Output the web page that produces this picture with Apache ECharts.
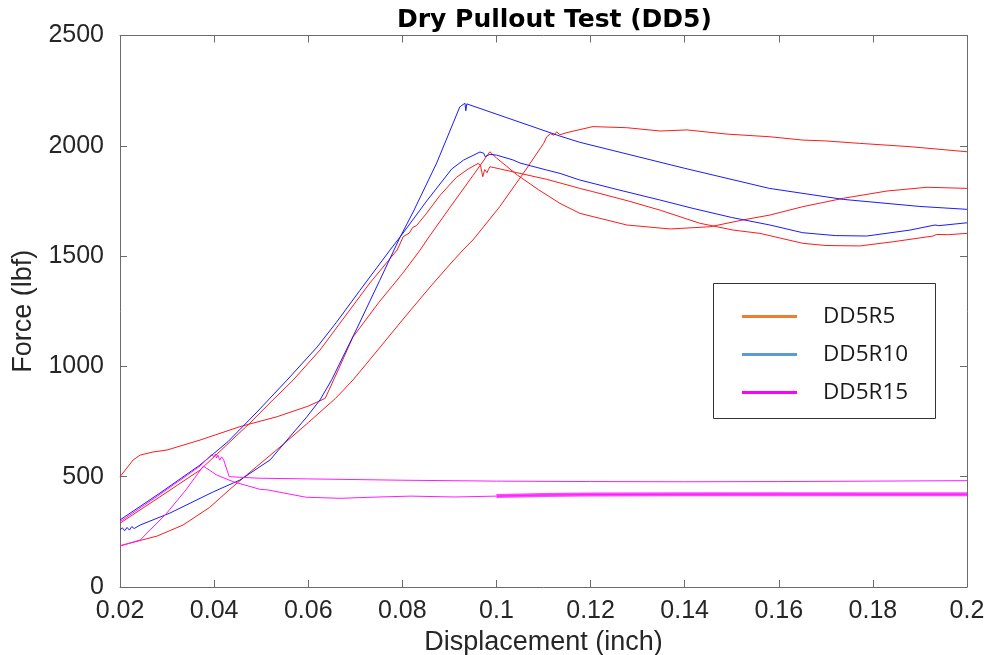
<!DOCTYPE html>
<html>
<head>
<meta charset="utf-8">
<title>Dry Pullout Test (DD5)</title>
<script src="https://cdn.jsdelivr.net/npm/echarts@6/dist/echarts.min.js"></script>
<style>
  html, body { margin: 0; padding: 0; background: #ffffff; }
  .chart { width: 985px; height: 655px; }
</style>
</head>
<body>
<div class="chart"></div>
<script>
// ------------------------------ BEGIN DATA ---------------------------------
// axis ranges : [min, max, interval]
var xRange = [0.02, 0.2, 0.02];
var yRange = [0, 2500, 500];

var legendNames = ['DD5R5', 'DD5R10', 'DD5R15'];

// DD5R5 (red) - three specimens, [displacement inch, force lbf]
var dd5r5A = [
  [0.0200, 289], [0.0285, 409], [0.0370, 530], [0.0476, 743], [0.0525, 848],
  [0.0568, 938], [0.0625, 1074], [0.0731, 1378], [0.0789, 1528], [0.0802, 1588],
  [0.0815, 1605], [0.0822, 1630], [0.0830, 1638], [0.0850, 1690], [0.0880, 1775],
  [0.0915, 1857], [0.0940, 1895], [0.0961, 1920], [0.0966, 1912], [0.0969, 1880],
  [0.0971, 1860], [0.0975, 1892], [0.0978, 1898], [0.0980, 1878], [0.0983, 1893],
  [0.0986, 1905], [0.0993, 1902], [0.1050, 1875], [0.1107, 1848], [0.1177, 1807],
  [0.1205, 1792], [0.1280, 1750], [0.1348, 1708], [0.1432, 1649], [0.1503, 1618],
  [0.1560, 1603], [0.1651, 1558], [0.1700, 1548], [0.1772, 1546], [0.1843, 1565],
  [0.1928, 1591], [0.1935, 1598], [0.1960, 1597], [0.2000, 1603]
];
var dd5r5B = [
  [0.0200, 500], [0.0228, 576], [0.0243, 598], [0.0270, 612], [0.0300, 621],
  [0.0370, 666], [0.0455, 727], [0.0534, 772], [0.0600, 820], [0.0636, 855],
  [0.0665, 990], [0.0695, 1133], [0.0750, 1290], [0.0800, 1420], [0.0838, 1528],
  [0.0852, 1573], [0.0900, 1717], [0.0950, 1865], [0.0986, 1973], [0.1000, 1945],
  [0.1044, 1868], [0.1090, 1800], [0.1135, 1739], [0.1177, 1694], [0.1205, 1679],
  [0.1277, 1641], [0.1369, 1623], [0.1454, 1633], [0.1524, 1664], [0.1581, 1686],
  [0.1651, 1724], [0.1737, 1762], [0.1830, 1795], [0.1915, 1812], [0.2000, 1807]
];
var dd5r5C = [
  [0.0200, 187], [0.0279, 231], [0.0334, 281], [0.0390, 360], [0.0440, 455],
  [0.0490, 545], [0.0546, 645], [0.0600, 745], [0.0658, 855], [0.0695, 938],
  [0.0750, 1080], [0.0800, 1210], [0.0859, 1360], [0.0900, 1460], [0.0929, 1528],
  [0.0950, 1573], [0.1007, 1724], [0.1057, 1875], [0.1100, 2010], [0.1107, 2041],
  [0.1115, 2055], [0.1122, 2048], [0.1128, 2063], [0.1135, 2050], [0.1150, 2060],
  [0.1205, 2087], [0.1277, 2082], [0.1348, 2067], [0.1405, 2072], [0.1490, 2053],
  [0.1581, 2041], [0.1651, 2026], [0.1700, 2022], [0.1772, 2011], [0.1879, 1996],
  [0.2000, 1973]
];

// DD5R10 (blue) - two specimens
var dd5r10A = [
  [0.0200, 304], [0.0285, 426], [0.0370, 553], [0.0430, 660], [0.0491, 793],
  [0.0555, 938], [0.0619, 1088], [0.0660, 1200], [0.0710, 1345], [0.0774, 1528],
  [0.0800, 1600], [0.0850, 1745], [0.0905, 1895], [0.0930, 1935], [0.0965, 1972],
  [0.0969, 1973], [0.0973, 1966], [0.0976, 1951], [0.0980, 1958], [0.0986, 1961],
  [0.1000, 1958], [0.1035, 1936], [0.1050, 1922], [0.1107, 1890], [0.1135, 1875],
  [0.1177, 1845], [0.1260, 1800], [0.1348, 1754], [0.1418, 1716], [0.1500, 1675],
  [0.1581, 1641], [0.1651, 1606], [0.1720, 1593], [0.1787, 1591], [0.1879, 1618],
  [0.1932, 1641], [0.1940, 1638], [0.2000, 1651]
];
var dd5r10B = [
  [0.0200, 258], [0.0205, 268], [0.0210, 255], [0.0215, 270], [0.0220, 258],
  [0.0225, 274], [0.0230, 265], [0.0243, 281], [0.0306, 335], [0.0398, 431],
  [0.0455, 485], [0.0519, 576], [0.0597, 771], [0.0625, 848], [0.0650, 940],
  [0.0703, 1170], [0.0752, 1390], [0.0795, 1585], [0.0823, 1700], [0.0873, 1922],
  [0.0908, 2103], [0.0922, 2176], [0.0933, 2193], [0.0935, 2159], [0.0937, 2190],
  [0.0940, 2185], [0.1135, 2044], [0.1177, 2016], [0.1400, 1898], [0.1580, 1807],
  [0.1737, 1757], [0.1900, 1725], [0.2000, 1712]
];

// DD5R15 (magenta) - two specimens
var dd5r15A = [
  [0.0200, 296], [0.0285, 420], [0.0370, 548], [0.0395, 600], [0.0398, 607],
  [0.0400, 590], [0.0403, 603], [0.0405, 585], [0.0408, 598], [0.0412, 575],
  [0.0416, 590], [0.0420, 578], [0.0423, 583], [0.0432, 500], [0.0497, 493],
  [0.0600, 490], [0.0800, 484], [0.1000, 480], [0.1200, 478], [0.1400, 477],
  [0.1600, 478], [0.1800, 480], [0.2000, 482]
];
var dd5r15B = [
  [0.0200, 186], [0.0243, 213], [0.0299, 334], [0.0340, 440], [0.0377, 548],
  [0.0390, 530], [0.0405, 508], [0.0441, 477], [0.0497, 443], [0.0514, 440],
  [0.0595, 407], [0.0667, 402], [0.0750, 408], [0.0818, 412], [0.0910, 408],
  [0.1000, 412], [0.1100, 417], [0.1200, 419], [0.1400, 420], [0.1600, 421],
  [0.1800, 420], [0.2000, 420]
];
// ------------------------------- END DATA ----------------------------------

var pulloutChart = (function () {
  var
    configMap = {
      red     : '#ff1a1a',
      blue    : '#1a1aff',
      magenta : '#ff1aff',
      legendColors : ['#ed7d31', '#5b9bd5', '#ff00ff'],
      axisColor : '#6b6b6b',
      textColor : '#262626',
      noiseFrom : 0.095
    },
    makeLine, makeAxis, renderChart, initModule
  ;

  // Begin utility /makeLine/
  makeLine = function (name, data, color, width, opacity) {
    return {
      name       : name,
      type       : 'line',
      data       : data,
      symbol     : 'none',
      silent     : true,
      lineStyle  : { color : color, width : width || 1,
                     opacity : opacity || 1 },
      itemStyle  : { color : color }
    };
  };
  // End utility /makeLine/

  // Begin utility /makeAxis/
  makeAxis = function (range, position, showLabel) {
    return {
      type      : 'value',
      position  : position,
      min       : range[0],
      max       : range[1],
      interval  : range[2],
      splitLine : { show : false },
      axisLine  : { show : true, onZero : false,
                    lineStyle : { color : configMap.axisColor, width : 1 } },
      axisTick  : { show : true, inside : true, length : 7,
                    lineStyle : { color : configMap.axisColor } },
      axisLabel : { show : showLabel, color : configMap.textColor,
                    fontFamily : 'Liberation Sans', fontSize : 25,
                    formatter : function (v) { return String(v); } }
    };
  };
  // End utility /makeAxis/

  // Begin DOM method /renderChart/
  renderChart = function (el) {
    var myChart, option, xBottom, yLeft, noise;

    myChart = echarts.init(el, null, { renderer : 'canvas' });

    xBottom = makeAxis(xRange, 'bottom', true);
    xBottom.axisLabel.margin = 12;
    xBottom.name = 'Displacement (inch)';
    xBottom.nameLocation = 'middle';
    xBottom.nameGap = 40;
    xBottom.nameTextStyle = { color : configMap.textColor,
      fontFamily : 'Liberation Sans', fontSize : 27 };

    yLeft = makeAxis(yRange, 'left', true);
    yLeft.axisLabel.margin = 16;
    yLeft.name = 'Force (lbf)';
    yLeft.nameLocation = 'middle';
    yLeft.nameGap = 76;
    yLeft.nameTextStyle = { color : configMap.textColor,
      fontFamily : 'Liberation Sans', fontSize : 27 };

    // thick band for the noisy tail of the second DD5R15 trace
    noise = dd5r15B.filter(function (p) { return p[0] >= configMap.noiseFrom; });

    option = {
      animation : false,
      backgroundColor : '#ffffff',
      title : {
        text : 'Dry Pullout Test (DD5)',
        left : 392,
        top  : 3,
        textStyle : { fontFamily : 'DejaVu Sans', fontWeight : 'bold',
                      fontSize : 25, color : '#000000' }
      },
      grid : { left : 120, right : 18, top : 35.5, bottom : 68,
               containLabel : false, outerBoundsMode : 'none' },
      xAxis : [xBottom, makeAxis(xRange, 'top', false)],
      yAxis : [yLeft, makeAxis(yRange, 'right', false)],
      graphic : [{
        type  : 'rect',
        z     : 2,
        shape : { x : 713.5, y : 283.5, width : 222, height : 135 },
        style : { fill : '#ffffff', stroke : '#333333', lineWidth : 1 }
      }],
      legend : {
        orient  : 'vertical',
        left    : 742,
        top     : 305,
        padding : 0,
        itemWidth  : 55,
        itemHeight : 3,
        itemGap    : 15,
        icon    : 'rect',
        selectedMode : false,
        textStyle : { fontFamily : 'Open Sans', fontSize : 22.5,
                      color : '#1a1a1a', padding : [0, 0, 0, 21] },
        data : legendNames.map(function (n, i) {
          var c = configMap.legendColors[i];
          return { name : n, itemStyle : { color : c }, lineStyle : { color : c } };
        })
      },
      series : [
        makeLine(legendNames[0], dd5r5A, configMap.red),
        makeLine(legendNames[0], dd5r5B, configMap.red),
        makeLine(legendNames[0], dd5r5C, configMap.red),
        makeLine(legendNames[1], dd5r10A, configMap.blue),
        makeLine(legendNames[1], dd5r10B, configMap.blue),
        makeLine(legendNames[2], dd5r15A, configMap.magenta),
        makeLine(legendNames[2], dd5r15B, configMap.magenta),
        makeLine(legendNames[2], noise, configMap.magenta, 4, 0.8)
      ]
    };

    myChart.setOption(option);
  };
  // End DOM method /renderChart/

  initModule = function (el) {
    renderChart(el);
  };

  return { initModule : initModule };
}());

pulloutChart.initModule(document.getElementsByClassName('chart')[0]);
</script>
</body>
</html>
